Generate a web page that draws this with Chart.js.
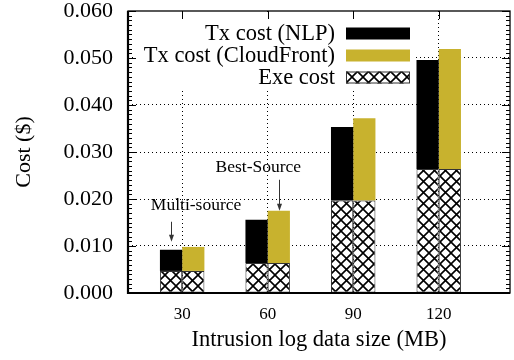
<!DOCTYPE html>
<html>
<head>
<meta charset="utf-8">
<script src="https://cdn.jsdelivr.net/npm/chart.js@4.4.0/dist/chart.umd.min.js"></script>
<style>
  html, body { margin: 0; padding: 0; background: #fff; }
  #wrap { width: 514px; height: 360px; }
</style>
</head>
<body>
<div id="wrap"><canvas id="cost"></canvas></div>
<script>
// data (MB -> $)
const sizes = [30, 60, 90, 120]
const exeCost = [0.0047, 0.0064, 0.0197, 0.0264]
const txNLP = [0.0045, 0.0092, 0.0156, 0.0232]
const txCloudFront = [0.0051, 0.0111, 0.0175, 0.0255]
const yTicks = [0, 0.01, 0.02, 0.03, 0.04, 0.05, 0.06]
const legendOrder = ['Tx cost (NLP)', 'Tx cost (CloudFront)', 'Exe cost']

const serif = '"Liberation Serif", "Times New Roman", serif'
const gold = 'rgb(200, 178, 46)'

function crossHatch() {
  const c = document.createElement('canvas')
  c.width = 11
  c.height = 11
  const g = c.getContext('2d')
  g.fillStyle = '#fff'
  g.fillRect(0, 0, 11, 11)
  g.strokeStyle = '#000'
  g.lineWidth = 1.6
  g.beginPath()
  g.moveTo(-1, -1); g.lineTo(12, 12)
  g.moveTo(12, -1); g.lineTo(-1, 12)
  g.stroke()
  return g.createPattern(c, 'repeat')
}
const hatch = crossHatch()

function arrow(ctx, x, y0, y1) {
  ctx.beginPath()
  ctx.moveTo(x, y0)
  ctx.lineTo(x, y1 - 5)
  ctx.stroke()
  ctx.beginPath()
  ctx.moveTo(x - 2.5, y1 - 7)
  ctx.lineTo(x + 2.5, y1 - 7)
  ctx.lineTo(x, y1)
  ctx.closePath()
  ctx.fill()
}

const decorations = {
  id: 'decorations',
  beforeDatasetsDraw(chart) {
    const {ctx, chartArea: a} = chart
    const sets = chart.data.datasets
    ctx.save()
    // opaque key box
    ctx.fillStyle = '#fff'
    ctx.fillRect(a.left + 8, a.top + 2, 279, 75)
    ctx.font = '22.5px ' + serif
    ctx.textAlign = 'right'
    ctx.textBaseline = 'middle'
    legendOrder.forEach((label, i) => {
      const ds = sets.find(d => d.label === label)
      const cy = a.top + 22.5 + i * 22
      const sx = a.left + 218
      ctx.fillStyle = ds.backgroundColor
      ctx.fillRect(sx, cy - 6, 64, 12)
      if (ds.borderWidth) {
        ctx.strokeStyle = '#333'
        ctx.lineWidth = 1
        ctx.strokeRect(sx + 0.5, cy - 5.5, 63, 11)
      }
      ctx.fillStyle = '#000'
      ctx.fillText(label, sx - 11, cy + 1)
    })
    ctx.restore()
  },
  afterDatasetsDraw(chart) {
    const {ctx, chartArea: a, scales: {x, y}} = chart
    ctx.save()
    ctx.strokeStyle = '#000'
    ctx.lineWidth = 1
    // inward y ticks, minor every 0.001
    for (let i = 0; i <= 60; i++) {
      const py = Math.round(y.getPixelForValue(i / 1000)) + 0.5
      const len = i % 10 === 0 ? 8 : 4
      ctx.beginPath()
      ctx.moveTo(a.left, py); ctx.lineTo(a.left + len, py)
      ctx.moveTo(a.right, py); ctx.lineTo(a.right - len, py)
      ctx.stroke()
    }
    sizes.forEach(v => {
      const px = Math.round(x.getPixelForValue(v)) + 0.5
      ctx.beginPath()
      ctx.moveTo(px, a.top); ctx.lineTo(px, a.top + 8)
      ctx.stroke()
    })
    // border
    ctx.lineWidth = 1.3
    ctx.strokeRect(a.left, a.top, a.right - a.left, a.bottom - a.top)
    ctx.lineWidth = 2.2
    ctx.beginPath()
    ctx.moveTo(a.left, a.top); ctx.lineTo(a.left, a.bottom); ctx.lineTo(a.right, a.bottom)
    ctx.stroke()

    // annotations
    const nlp = chart.getDatasetMeta(1).data[0]
    const cf = chart.getDatasetMeta(3).data[1]
    ctx.strokeStyle = '#333'
    ctx.fillStyle = '#333'
    ctx.lineWidth = 1
    arrow(ctx, Math.round(nlp.x) + 0.5, nlp.y - 28, nlp.y - 8)
    arrow(ctx, Math.round(cf.x) + 0.5, cf.y - 31, cf.y)
    ctx.fillStyle = '#000'
    ctx.font = '17.5px ' + serif
    ctx.textAlign = 'center'
    ctx.textBaseline = 'alphabetic'
    ctx.fillText('Multi-source', nlp.x + 25, nlp.y - 39.5)
    ctx.fillText('Best-Source', cf.x - 20.5, cf.y - 38.5)
    ctx.restore()
  }
}

const exeStyle = {
  backgroundColor: hatch,
  borderColor: '#333',
  borderWidth: 1,
  borderSkipped: false
}

const chart = new Chart(document.getElementById('cost'), {
  type: 'bar',
  data: {
    labels: sizes,
    datasets: [
      { label: 'Exe cost', data: exeCost, stack: 'nlp', ...exeStyle },
      { label: 'Tx cost (NLP)', data: txNLP, stack: 'nlp', backgroundColor: '#000', borderWidth: 0 },
      { label: 'Exe cost', data: exeCost, stack: 'cf', ...exeStyle },
      { label: 'Tx cost (CloudFront)', data: txCloudFront, stack: 'cf', backgroundColor: gold, borderWidth: 0 }
    ]
  },
  options: {
    responsive: true,
    maintainAspectRatio: false,
    animation: false,
    categoryPercentage: 0.52,
    barPercentage: 1,
    layout: { padding: { top: 11, right: 4, left: 0, bottom: 0 } },
    plugins: {
      legend: { display: false },
      tooltip: { enabled: false }
    },
    scales: {
      x: {
        type: 'linear',
        stacked: true,
        offset: false,
        min: 11,
        max: 145,
        afterBuildTicks: s => { s.ticks = sizes.map(v => ({ value: v })) },
        afterFit: s => {
          s.height = 67
          s.paddingLeft = 0
          s.paddingRight = 0
        },
        border: { display: false, dash: [1, 3] },
        grid: {
          offset: false,
          color: '#000',
          lineWidth: 1,
          drawTicks: false
        },
        ticks: {
          color: '#000',
          padding: 11,
          font: { family: serif, size: 17 },
          callback: v => String(v)
        },
        title: {
          display: true,
          text: 'Intrusion log data size (MB)',
          color: '#000',
          padding: { top: 0, bottom: 6 },
          font: { family: serif, size: 22.5 }
        }
      },
      y: {
        stacked: true,
        min: 0,
        max: 0.06,
        afterBuildTicks: s => { s.ticks = yTicks.map(v => ({ value: v })) },
        afterFit: s => {
          s.width = 128
          s.paddingTop = 0
          s.paddingBottom = 0
        },
        border: { display: false, dash: [1, 3] },
        grid: {
          color: c => (c.index === 0 || c.index === yTicks.length - 1) ? 'rgba(0,0,0,0)' : '#000',
          lineWidth: 1,
          drawTicks: false
        },
        ticks: {
          color: '#000',
          padding: 15,
          font: { family: serif, size: 22 },
          callback: v => v.toFixed(3)
        },
        title: {
          display: true,
          text: 'Cost ($)',
          color: '#000',
          padding: { top: 11, bottom: 0 },
          font: { family: serif, size: 22 }
        }
      }
    }
  },
  plugins: [decorations]
})
</script>
</body>
</html>
